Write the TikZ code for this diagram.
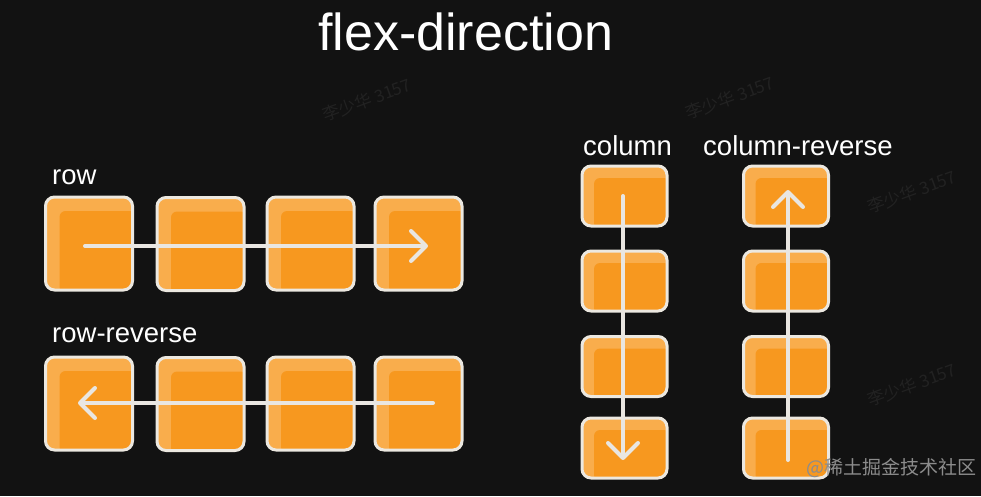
\documentclass[tikz,border=0pt]{standalone}
\usepackage{fontspec}
\setmainfont{Liberation Sans}
\newfontfamily\cjk{Noto Sans CJK SC}
\usetikzlibrary{arrows.meta,calc}
\definecolor{bg}{HTML}{121212}
\definecolor{olight}{HTML}{F9AD4C}
\definecolor{omain}{HTML}{F7981F}
\definecolor{edgec}{HTML}{ECE8E0}
\definecolor{arr}{HTML}{E9E6E1}
\definecolor{wm}{HTML}{222222}
\definecolor{wmb}{HTML}{8C8C8C}
\tikzset{
  obox/.style={draw=edgec, line width=3pt, rounded corners=9pt, fill=olight, inner sep=0pt,
    path picture={\fill[omain, rounded corners=6pt]
      ($(path picture bounding box.north west)+(#1,-#1)$) rectangle
      ($(path picture bounding box.south east)+(3pt,-3pt)$);}},
  rowbox/.style={obox=14pt, minimum width=87pt, minimum height=93pt},
  colbox/.style={obox=12pt, minimum width=85pt, minimum height=60pt},
  arrowline/.style={draw=arr, line width=4pt, line cap=round,
    -{Straight Barb[length=15pt,width=30pt,line cap=round,round]}},
  lbl/.style={text=white, inner sep=0pt, anchor=base west, font=\fontsize{27.5}{30}\selectfont},
  wmark/.style={text=wm, rotate=20, inner sep=0pt, font=\cjk\fontsize{17}{17}\selectfont},
}
\begin{document}
\begin{tikzpicture}[x=1pt,y=-1pt]
\fill[bg] (0,0) rectangle (981,496);
\useasboundingbox (0,0) rectangle (981,496);
% faint watermarks
\foreach \i/\px/\py in {1/367/100, 2/730/98, 3/912/192, 4/912/385}
  \node[wmark] (wm\i) at (\px,\py) {李少华 3157};
% title
\node[lbl, font=\fontsize{52}{56}\selectfont] (title) at (318,50) {flex-direction};
% labels
\node[lbl] (lrow) at (52,184) {row};
\node[lbl] (lrowr) at (52,342) {row-reverse};
\node[lbl] (lcol) at (583,155) {column};
\node[lbl] (lcolr) at (703,155) {column-reverse};
% row boxes
\node[rowbox] (r1) at (89,243.5) {};
\node[rowbox] (r2) at (200.5,244) {};
\node[rowbox] (r3) at (310.5,243.5) {};
\node[rowbox] (r4) at (418.5,243.5) {};
% row-reverse boxes
\node[rowbox] (q1) at (89,403.5) {};
\node[rowbox] (q2) at (200.5,404) {};
\node[rowbox] (q3) at (310.5,403.5) {};
\node[rowbox] (q4) at (418.5,403.5) {};
% column boxes
\node[colbox] (c1) at (624.5,196) {};
\node[colbox] (c2) at (624.5,281) {};
\node[colbox] (c3) at (624.5,366.5) {};
\node[colbox] (c4) at (624.5,448) {};
% column-reverse boxes
\node[colbox] (d1) at (786,196) {};
\node[colbox] (d2) at (786,281) {};
\node[colbox] (d3) at (786,366.5) {};
\node[colbox] (d4) at (786,448) {};
% arrow ends
\coordinate (ra) at (85,246);
\coordinate (rb) at (428,246);
\coordinate (qa) at (433,403);
\coordinate (qb) at (78,403);
\coordinate (ca) at (623,196);
\coordinate (cb) at (623,460);
\coordinate (da) at (788,460);
\coordinate (db) at (788,190);
\draw[arrowline] (ra) -- (rb);
\draw[arrowline] (qa) -- (qb);
\draw[arrowline] (ca) -- (cb);
\draw[arrowline] (da) -- (db);
% site watermark
\node[text=wmb, inner sep=0pt, anchor=west, font=\cjk\fontsize{19}{19}\selectfont] (site) at (806,468) {@稀土掘金技术社区};
\end{tikzpicture}
\end{document}
